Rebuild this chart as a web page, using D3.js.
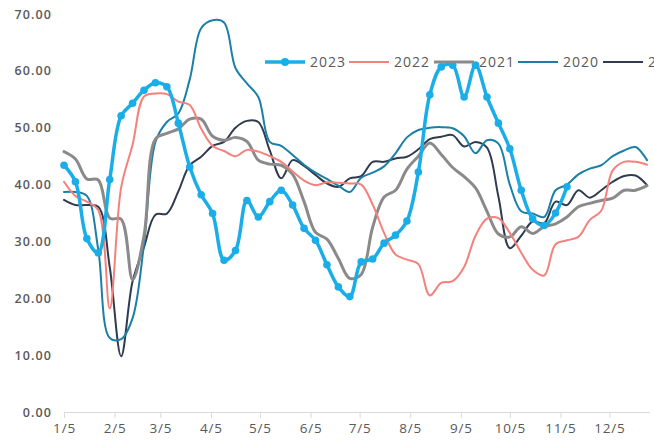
<!DOCTYPE html>
<html>
<head>
<meta charset="utf-8">
<script src="https://cdn.jsdelivr.net/npm/d3@7"></script>
<style>
  html, body { margin: 0; padding: 0; background: #ffffff; }
  svg { display: block; }
</style>
</head>
<body>
<div id="chart"></div>
<script>
// ---- data ----
const weeks = ["1/5","1/12","1/19","1/26","2/2","2/9","2/16","2/23","3/2","3/9","3/16","3/23","3/30",
  "4/6","4/13","4/20","4/27","5/4","5/11","5/18","5/25","6/1","6/8","6/15","6/22","6/29",
  "7/6","7/13","7/20","7/27","8/3","8/10","8/17","8/24","8/31","9/7","9/14","9/21","9/28",
  "10/5","10/12","10/19","10/26","11/2","11/9","11/16","11/23","11/30","12/7","12/14","12/21","12/28"];
const tickLabels = ["1/5","2/5","3/5","4/5","5/5","6/5","7/5","8/5","9/5","10/5","11/5","12/5"];
const yTicks = [0,10,20,30,40,50,60,70];
const seriesNames = ["2023","2022","2021","2020","2019"];

const v2023 = [43.4,40.5,30.5,28.0,40.9,52.1,54.3,56.6,57.9,57.2,50.8,43.1,38.2,34.9,26.7,28.4,37.2,34.3,
  37.0,39.0,36.4,32.3,30.2,25.9,22.0,20.3,26.4,26.9,29.7,31.1,33.6,42.2,55.8,60.7,61.0,55.4,61.0,55.4,
  50.8,46.3,39.0,34.0,32.8,35.0,39.6];
const v2022 = [40.5,38.0,37.0,35.5,18.2,39.5,47.0,55.5,56.0,55.9,54.6,54.0,49.8,46.8,45.9,45.0,46.1,45.8,
  45.0,44.0,42.3,40.7,39.9,40.4,40.3,40.2,40.0,36.5,31.5,27.7,26.8,26.0,20.5,22.7,23.0,25.5,31.0,34.0,
  34.1,31.5,28.0,25.0,24.0,29.5,30.2,30.8,33.8,35.4,42.5,44.0,44.0,43.5];
const v2021 = [45.8,44.5,41.0,40.8,34.1,33.9,23.3,31.0,48.0,49.0,49.8,51.5,51.5,48.5,47.8,48.3,47.6,44.3,
  43.6,43.4,41.8,37.0,31.6,30.4,27.0,23.5,24.2,32.5,37.8,39.0,42.7,45.0,47.3,45.3,43.0,41.4,39.4,35.3,
  31.3,30.8,32.6,31.4,32.6,33.1,34.3,36.1,36.7,37.2,37.6,39.0,39.0,39.8];
const v2020 = [38.7,38.7,38.0,28.5,13.0,12.8,16.5,29.5,47.5,51.0,52.5,58.5,67.5,68.9,68.5,60.5,57.8,55.4,
  47.5,46.8,45.2,43.5,42.1,41.0,39.8,38.7,41.2,42.1,43.2,45.5,48.3,49.6,50.0,50.1,49.9,48.5,45.5,47.8,
  47.2,40.0,35.3,34.9,34.3,39.0,40.0,41.8,42.8,43.4,45.0,46.0,46.6,44.3];
const v2019 = [37.3,36.4,36.4,36.1,25.5,9.8,23.0,29.0,34.7,34.9,38.8,43.4,44.9,46.8,47.5,50.0,51.2,51.0,
  46.0,41.1,44.3,43.3,41.7,40.2,39.6,41.1,41.5,44.0,44.0,44.6,44.9,46.2,48.0,48.4,48.7,46.7,47.5,46.5,
  37.9,28.8,31.0,33.5,33.2,37.0,36.4,39.0,37.7,39.0,40.5,41.5,41.6,39.9];

const seriesValues = [v2023, v2022, v2021, v2020, v2019];
const colors = ["#1BADE8", "#F4817B", "#8A8A8A", "#1C7FA6", "#2F3B4F"];
const widths = [3.5, 2, 3, 2, 2];

// ---- layout ----
const W = 654, H = 443;
const parse = d3.timeParse("%m/%d");
const fmt = d => (d.getMonth() + 1) + "/" + d.getDate();

const x = d3.scaleTime()
  .domain([parse(weeks[0]), parse(weeks[weeks.length - 1])])
  .range([64, 647]);
const y = d3.scaleLinear().domain([0, 70]).range([412, 14]);

const svg = d3.select("#chart").append("svg").attr("width", W).attr("height", H);

// y labels
svg.append("g").selectAll("text").data(yTicks).join("text")
  .attr("x", 52).attr("y", d => y(d))
  .attr("dy", "0.36em")
  .attr("text-anchor", "end")
  .attr("font-family", "'Open Sans', sans-serif")
  .attr("font-size", 12.5).attr("font-weight", 600)
  .attr("letter-spacing", 1.1)
  .attr("fill", "#595959")
  .text(d => d.toFixed(2));

// x axis
const xAxis = d3.axisBottom(x)
  .tickValues(tickLabels.map(parse))
  .tickFormat(fmt)
  .tickSize(6).tickSizeOuter(0).tickPadding(5);
const gx = svg.append("g").attr("transform", "translate(0,412)").call(xAxis);
gx.select(".domain").attr("stroke", "#D9D9D9").attr("d", "M64,0.5H650");
gx.selectAll(".tick line").attr("stroke", "#D9D9D9");
gx.selectAll(".tick text")
  .attr("font-family", "'Open Sans', sans-serif")
  .attr("font-size", 13.5).attr("letter-spacing", 0.8)
  .attr("fill", "#595959");

// lines
const line = d3.line()
  .x((d, i) => x(parse(weeks[i])))
  .y(d => y(d))
  .curve(d3.curveCatmullRom.alpha(0.5));

const order = [4, 3, 2, 1, 0];
order.forEach(k => {
  svg.append("path")
    .datum(seriesValues[k])
    .attr("fill", "none")
    .attr("stroke", colors[k])
    .attr("stroke-width", widths[k])
    .attr("stroke-linejoin", "round")
    .attr("stroke-linecap", "round")
    .attr("d", line);
});

svg.append("g").selectAll("circle").data(v2023).join("circle")
  .attr("cx", (d, i) => x(parse(weeks[i])))
  .attr("cy", d => y(d))
  .attr("r", 3.8)
  .attr("fill", colors[0]);

// legend
const legX = [265, 349, 434, 518, 603];
const lg = svg.append("g");
seriesNames.forEach((name, k) => {
  const g = lg.append("g").attr("transform", `translate(${legX[k]},62)`);
  g.append("line").attr("x1", 0).attr("x2", 40).attr("y1", 0).attr("y2", 0)
    .attr("stroke", colors[k]).attr("stroke-width", widths[k]);
  if (k === 0) g.append("circle").attr("cx", 20).attr("cy", 0).attr("r", 4).attr("fill", colors[0]);
  g.append("text").attr("x", 45).attr("y", 0).attr("dy", "0.36em")
    .attr("font-family", "'Open Sans', sans-serif")
    .attr("font-size", 14).attr("letter-spacing", 1)
    .attr("fill", "#595959")
    .text(name);
});
</script>
</body>
</html>
